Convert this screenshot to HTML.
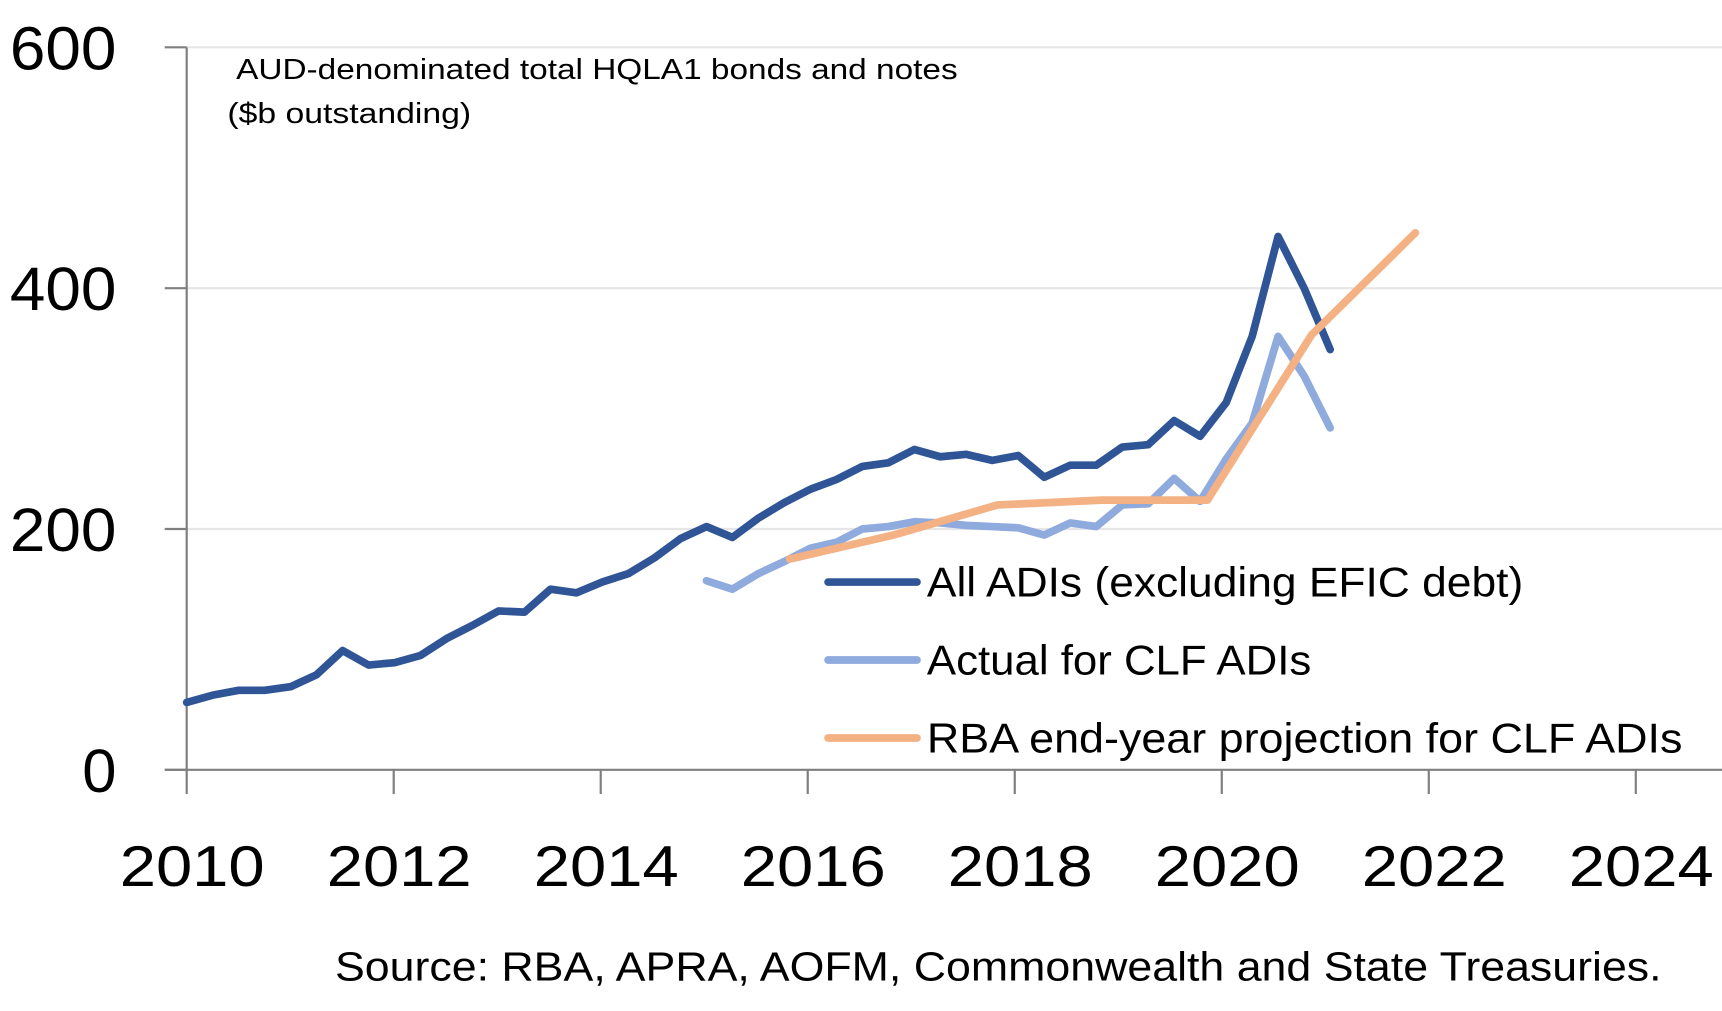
<!DOCTYPE html>
<html><head><meta charset="utf-8"><style>
html,body{margin:0;padding:0;background:#fff;}
svg{display:block;font-family:"Liberation Sans",sans-serif;}
</style></head><body>
<svg id="chart" width="1722" height="1011" viewBox="0 0 1568 920.6" preserveAspectRatio="none" xmlns="http://www.w3.org/2000/svg">
<g id="grid"></g>
<g id="axes"></g>
<g id="series"></g>
<text x="215" y="72" font-size="26" textLength="657" lengthAdjust="spacingAndGlyphs">AUD-denominated total HQLA1 bonds and notes</text>
<text x="207" y="112" font-size="26" textLength="222" lengthAdjust="spacingAndGlyphs">($b outstanding)</text>
<g>
<line x1="754" y1="530" x2="835" y2="530" stroke="#2f5597" stroke-width="7" stroke-linecap="round"/>
<text x="844" y="543" font-size="38" textLength="543" lengthAdjust="spacingAndGlyphs">All ADIs (excluding EFIC debt)</text>
<line x1="754" y1="601" x2="835" y2="601" stroke="#8faadc" stroke-width="7" stroke-linecap="round"/>
<text x="844" y="614" font-size="38" textLength="350" lengthAdjust="spacingAndGlyphs">Actual for CLF ADIs</text>
<line x1="754" y1="672" x2="835" y2="672" stroke="#f4b183" stroke-width="7" stroke-linecap="round"/>
<text x="844" y="685" font-size="38" textLength="688" lengthAdjust="spacingAndGlyphs">RBA end-year projection for CLF ADIs</text>
</g>
<text x="305" y="893" font-size="37" textLength="1208" lengthAdjust="spacingAndGlyphs">Source: RBA, APRA, AOFM, Commonwealth and State Treasuries.</text>
</svg>
<script>
const yTicks = [0, 200, 400, 600];
const xTicks = [2010, 2012, 2014, 2016, 2018, 2020, 2022, 2024];
const allStart = 2010.0;
const allAdis = [56,62,66,66,69,79,99,87,89,95,109,120,132,131,150,147,156,163,176,192,202,193,209,222,233,241,252,255,266,260,262,257,261,243,253,253,268,270,290,277,305,360,443,400,349];
const clfStart = 2015.0;
const actualClf = [157,150,163,173,184,189,200,202,206,205,203,202,201,195,205,202,220,221,242,223,258,288,360,327,284];
const projYears = [2015.8,2016.8,2017.8,2018.8,2019.82,2020.82,2021.82];
const projValues = [175,195,220,224,224,361,446];

const NS = "http://www.w3.org/2000/svg";
function X(yr){ return 170 + (yr - 2010) * 94.25; }
function XS(yr){ return 170 + (yr - 2010) * 94.65; }
function Y(v){ return 701 - v * 1.0965; }
function mk(tag, attrs, parent){ const e=document.createElementNS(NS,tag); for(const k in attrs) e.setAttribute(k,attrs[k]); parent.appendChild(e); return e; }

const grid=document.getElementById('grid'), axes=document.getElementById('axes'), series=document.getElementById('series');
yTicks.forEach(v=>{
  if(v>0){
    const g=mk('line',{x1:170,x2:1568,y1:Y(v),y2:Y(v),stroke:'#e6e6e6','stroke-width':2},grid);
    
    
  }
  const t=mk('line',{x1:150,x2:170,y1:Y(v),y2:Y(v),stroke:'#7f7f7f','stroke-width':2},axes);
  
  
  const l=mk('text',{x:106,y:Y(v)+20,'font-size':56,'text-anchor':'end'},axes);
  if(v>0){ l.setAttribute('textLength',97); l.setAttribute('lengthAdjust','spacingAndGlyphs'); }
  l.textContent=v;
  
  
});
const ya=mk('line',{x1:170,x2:170,y1:Y(600),y2:Y(0),stroke:'#7f7f7f','stroke-width':2},axes);


const xa=mk('line',{x1:150,x2:1568,y1:Y(0),y2:Y(0),stroke:'#7f7f7f','stroke-width':2},axes);


xTicks.forEach(yr=>{
  const t=mk('line',{x1:X(yr),x2:X(yr),y1:Y(0),y2:Y(0)+22,stroke:'#7f7f7f','stroke-width':2},axes);
  
  
  const l=mk('text',{x:X(yr)+5,y:807,'font-size':52,'text-anchor':'middle',textLength:132,lengthAdjust:'spacingAndGlyphs'},axes);
  l.textContent=yr;
  
  
});
function path(pts,color,name){
  const d=pts.map((p,i)=>(i?'L':'M')+XS(p[0]).toFixed(1)+','+Y(p[1]).toFixed(1)).join(' ');
  const p=mk('path',{d:d,fill:'none',stroke:color,'stroke-width':7,'stroke-linejoin':'round','stroke-linecap':'round'},series);
  
  
}
path(actualClf.map((v,i)=>[clfStart+i*0.25,v]),'#8faadc','series-actual-clf');
path(allAdis.map((v,i)=>[allStart+i*0.25,v]),'#2f5597','series-all-adis');
path(projValues.map((v,i)=>[projYears[i],v]),'#f4b183','series-rba-projection');
</script>
</body></html>
